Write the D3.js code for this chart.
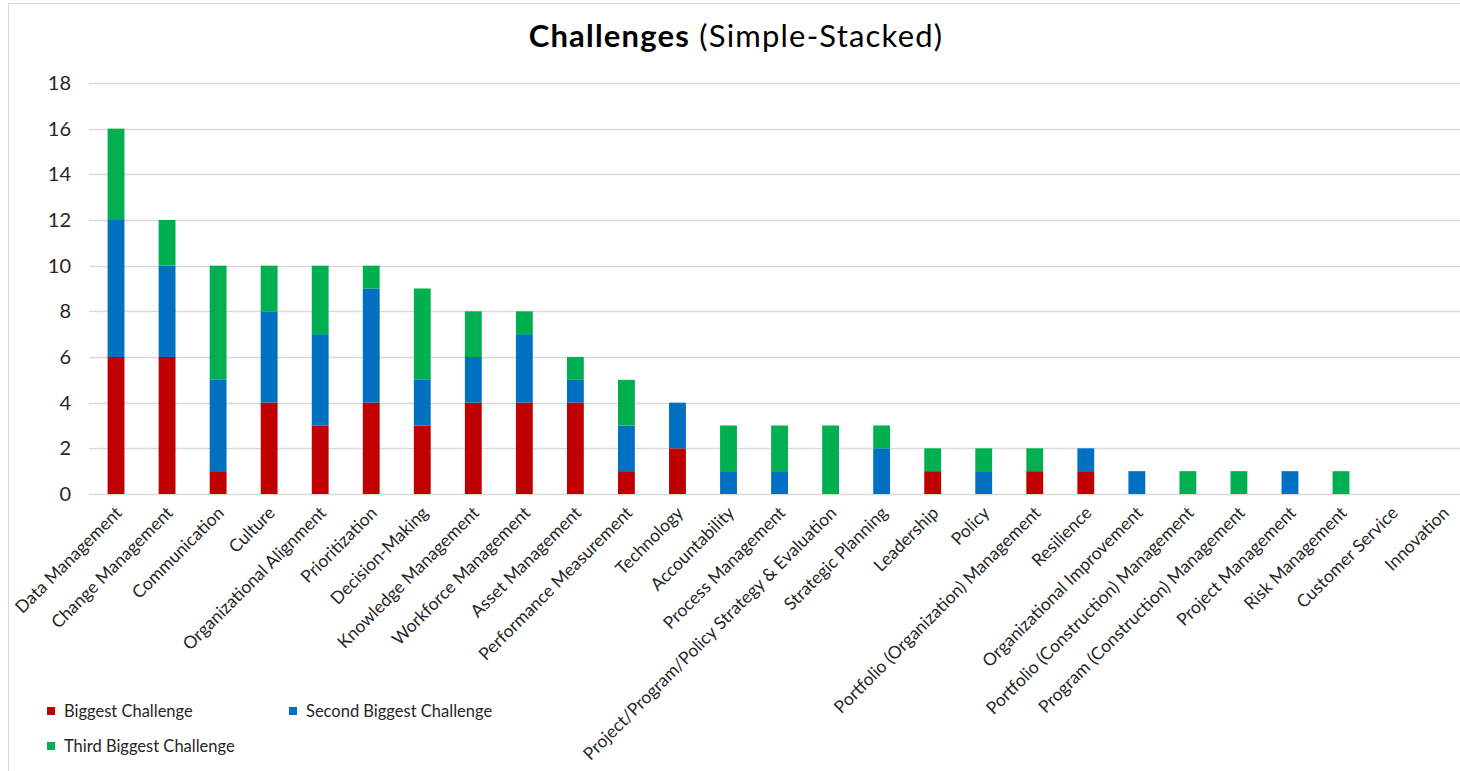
<!DOCTYPE html>
<html>
<head>
<meta charset="utf-8">
<script src="https://cdn.jsdelivr.net/npm/d3@7"></script>
<style>
  html, body { margin: 0; padding: 0; background: #fff; }
  svg { display: block; font-family: Lato, "Noto Sans", sans-serif; }
</style>
</head>
<body>
<svg id="chart" width="1460" height="771"></svg>
<script>
// Survey categories, ordered by total mentions
const categories = [
  "Data Management", "Change Management", "Communication", "Culture",
  "Organizational Alignment", "Prioritization", "Decision-Making",
  "Knowledge Management", "Workforce Management", "Asset Management",
  "Performance Measurement", "Technology", "Accountability",
  "Process Management", "Project/Program/Policy Strategy & Evaluation",
  "Strategic Planning", "Leadership", "Policy",
  "Portfolio (Organization) Management", "Resilience",
  "Organizational Improvement", "Portfolio (Construction) Management",
  "Program (Construction) Management", "Project Management",
  "Risk Management", "Customer Service", "Innovation"
];

// Counts per ranking
const biggest =       [6, 6, 1, 4, 3, 4, 3, 4, 4, 4, 1, 2, 0, 0, 0, 0, 1, 0, 1, 1, 0, 0, 0, 0, 0, 0, 0];
const secondBiggest = [6, 4, 4, 4, 4, 5, 2, 2, 3, 1, 2, 2, 1, 1, 0, 2, 0, 1, 0, 1, 1, 0, 0, 1, 0, 0, 0];
const thirdBiggest =  [4, 2, 5, 2, 3, 1, 4, 2, 1, 1, 2, 0, 2, 2, 3, 1, 1, 1, 1, 0, 0, 1, 1, 0, 1, 0, 0];

const seriesNames = ["Biggest Challenge", "Second Biggest Challenge", "Third Biggest Challenge"];
const seriesColors = ["#C00000", "#0070C0", "#00B050"];
const yTicks = [0, 2, 4, 6, 8, 10, 12, 14, 16, 18];

const svg = d3.select("#chart");

// Outer chart frame
svg.append("rect")
  .attr("x", 8.5).attr("y", 3.5)
  .attr("width", 1470).attr("height", 800)
  .attr("fill", "#fff").attr("stroke", "#d9d9d9");

// Title
const title = svg.append("text")
  .attr("x", 736).attr("y", 47)
  .attr("text-anchor", "middle")
  .attr("font-size", 31)
  .attr("letter-spacing", 1.2)
  .attr("fill", "#000");
title.append("tspan").attr("font-weight", "bold").text("Challenges");
title.append("tspan").attr("font-weight", "normal").text(" (Simple-Stacked)");

// Scales
const x = d3.scaleBand()
  .domain(categories)
  .range([90.5, 1468.6])
  .paddingInner(0.67)
  .paddingOuter(0.335);

const y = d3.scaleLinear().domain([0, 18]).range([494, 83]);

// Horizontal gridlines
svg.append("g")
  .selectAll("line")
  .data(yTicks)
  .join("line")
  .attr("x1", 89).attr("x2", 1470)
  .attr("y1", d => Math.round(y(d)) + 0.5)
  .attr("y2", d => Math.round(y(d)) + 0.5)
  .attr("stroke", "#d9d9d9")
  .attr("stroke-width", 1.3);

// Y axis labels
const yAxis = d3.axisLeft(y).tickValues(yTicks).tickSize(0).tickPadding(0);
svg.append("g")
  .attr("transform", "translate(71,0)")
  .call(yAxis)
  .call(g => g.select(".domain").remove())
  .call(g => g.selectAll("text")
    .attr("font-family", "Lato, 'Noto Sans', sans-serif")
    .attr("font-size", 20)
    .attr("fill", "#262626"));

// Stacked bars
const rows = categories.map((c, i) => ({
  category: c,
  s0: biggest[i], s1: secondBiggest[i], s2: thirdBiggest[i]
}));
const stack = d3.stack().keys(["s0", "s1", "s2"]);
const layers = stack(rows);

svg.append("g")
  .selectAll("g")
  .data(layers)
  .join("g")
  .attr("fill", (d, i) => seriesColors[i])
  .selectAll("rect")
  .data(d => d.filter(p => p[1] > p[0]))
  .join("rect")
  .attr("x", d => x(d.data.category))
  .attr("width", x.bandwidth())
  .attr("y", d => y(d[1]))
  .attr("height", d => y(d[0]) - y(d[1]));

// Category labels, rotated
const xAxis = d3.axisBottom(x).tickSize(0).tickPadding(0);
svg.append("g")
  .attr("transform", "translate(0,494)")
  .call(xAxis)
  .call(g => g.select(".domain").remove())
  .call(g => g.selectAll("text")
    .attr("font-family", "Lato, 'Noto Sans', sans-serif")
    .attr("font-size", 17.5)
    .attr("fill", "#262626")
    .attr("text-anchor", "end")
    .attr("dy", 0)
    .attr("y", 0)
    .attr("transform", "translate(7,20) rotate(-45)"));

// Legend
const legendItems = [
  { name: seriesNames[0], color: seriesColors[0], x: 47, y: 711 },
  { name: seriesNames[1], color: seriesColors[1], x: 289, y: 711 },
  { name: seriesNames[2], color: seriesColors[2], x: 47, y: 746 }
];
const lg = svg.append("g")
  .selectAll("g")
  .data(legendItems)
  .join("g")
  .attr("transform", d => `translate(${d.x},${d.y})`);
lg.append("rect")
  .attr("x", 0).attr("y", -4).attr("width", 8).attr("height", 8)
  .attr("fill", d => d.color);
lg.append("text")
  .attr("x", 17).attr("y", 0).attr("dy", "0.35em")
  .attr("font-size", 16.5)
  .attr("fill", "#262626")
  .text(d => d.name);
</script>
</body>
</html>
